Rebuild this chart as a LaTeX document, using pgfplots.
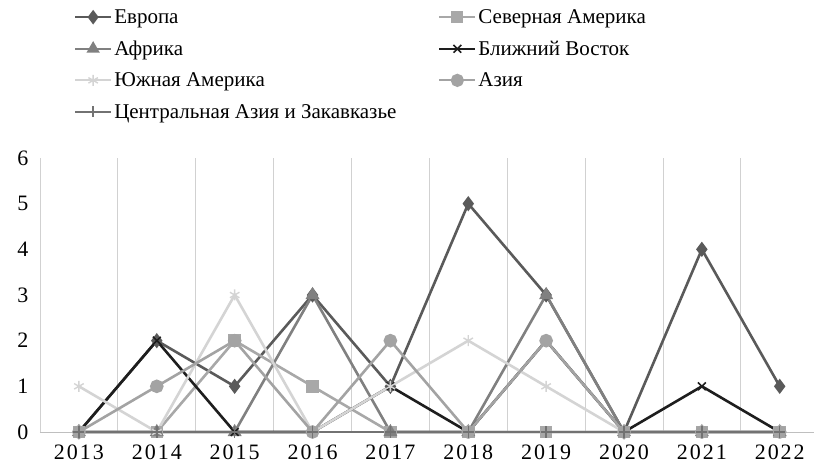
\documentclass[border=0pt]{standalone}
\usepackage{fontspec}
\setmainfont{Liberation Serif}
\usepackage{pgfplots}
\pgfplotsset{compat=1.18}
\definecolor{cEu}{HTML}{5A5A5A}
\definecolor{cNA}{HTML}{A8A8A8}
\definecolor{cAf}{HTML}{808080}
\definecolor{cME}{HTML}{1E1E1E}
\definecolor{cSA}{HTML}{D4D4D4}
\definecolor{cAs}{HTML}{A3A3A3}
\definecolor{cCA}{HTML}{727272}
\begin{document}
\begin{tikzpicture}
\useasboundingbox (0,0) rectangle (814bp,466bp);
\begin{axis}[
  at={(40bp,34bp)}, anchor=south west,
  scale only axis, width=774bp, height=274bp,
  xmin=-0.5, xmax=9.44, ymin=0, ymax=6,
  xtick={0,1,2,3,4,5,6,7,8,9},
  xticklabels={2013,2014,2015,2016,2017,2018,2019,2020,2021,2022},
  ytick={0,1,2,3,4,5,6},
  minor xtick={-0.5,0.5,1.5,2.5,3.5,4.5,5.5,6.5,7.5,8.5},
  xminorgrids, minor grid style={black!18, line width=0.8bp},
  major tick length=0pt, minor tick length=0pt,
  axis x line*=bottom, axis y line*=left,
  x axis line style={black!25, line width=0.8bp, -},
  y axis line style={draw=none},
  clip=false,
  /pgf/number format/assume math mode=true,
  ticklabel style={font=\fontsize{22bp}{26bp}\selectfont},
  xticklabel style={font=\fontsize{22bp}{26bp}\selectfont\addfontfeature{LetterSpace=9}, yshift=-9bp},
  yticklabel style={xshift=-8bp},
  every axis plot/.append style={line width=2.6bp, mark options={solid}},
  legend style={draw=none, fill=none, inner sep=0pt, outer sep=0pt,
    at={(rel axis cs:0.044,1.545)}, anchor=north west,
    font=\fontsize{21bp}{25bp}\selectfont,
    nodes={inner sep=0pt, text height=15bp, text depth=5bp},
    row sep=11.6bp,
    /tikz/column sep=2bp},
  legend columns=2,
  legend cell align=left,
  legend image code/.code={\draw[mark repeat=2,mark phase=2,line width=2.2bp,yshift=1.5bp] plot coordinates {(0bp,0bp) (18bp,0bp) (36bp,0bp)};},
]
\addplot[color=cEu, mark=diamond*, mark size=5.5bp] coordinates {(0,0) (1,2) (2,1) (3,3) (4,1) (5,5) (6,3) (7,0) (8,4) (9,1)};
\addlegendentry{\makebox[322bp][l]{Европа}}
\addplot[color=cNA, mark=square*, mark size=5bp] coordinates {(0,0) (1,0) (2,2) (3,1) (4,0) (5,0) (6,0) (7,0) (8,0) (9,0)};
\addlegendentry{Северная Америка}
\addplot[color=cAf, mark=triangle*, mark size=5.5bp] coordinates {(0,0) (1,0) (2,0) (3,3) (4,0) (5,0) (6,3) (7,0) (8,0) (9,0)};
\addlegendentry{\makebox[322bp][l]{Африка}}
\addplot[color=cME, mark=x, mark size=5.5bp, mark options={line width=1.6bp}] coordinates {(0,0) (1,2) (2,0) (3,0) (4,1) (5,0) (6,2) (7,0) (8,1) (9,0)};
\addlegendentry{Ближний Восток}
\addplot[color=cSA, mark=asterisk, mark size=5.5bp, mark options={line width=1.4bp}] coordinates {(0,1) (1,0) (2,3) (3,0) (4,1) (5,2) (6,1) (7,0) (8,0) (9,0)};
\addlegendentry{\makebox[322bp][l]{Южная Америка}}
\addplot[color=cAs, mark=*, mark size=5.5bp] coordinates {(0,0) (1,1) (2,2) (3,0) (4,2) (5,0) (6,2) (7,0) (8,0) (9,0)};
\addlegendentry{Азия}
\addplot[color=cCA, mark=+, mark size=5.5bp, mark options={line width=1.4bp}] coordinates {(0,0) (1,0) (2,0) (3,0) (4,0) (5,0) (6,0) (7,0) (8,0) (9,0)};
\addlegendentry{Центральная Азия и Закавказье}
\end{axis}
\end{tikzpicture}
\end{document}
